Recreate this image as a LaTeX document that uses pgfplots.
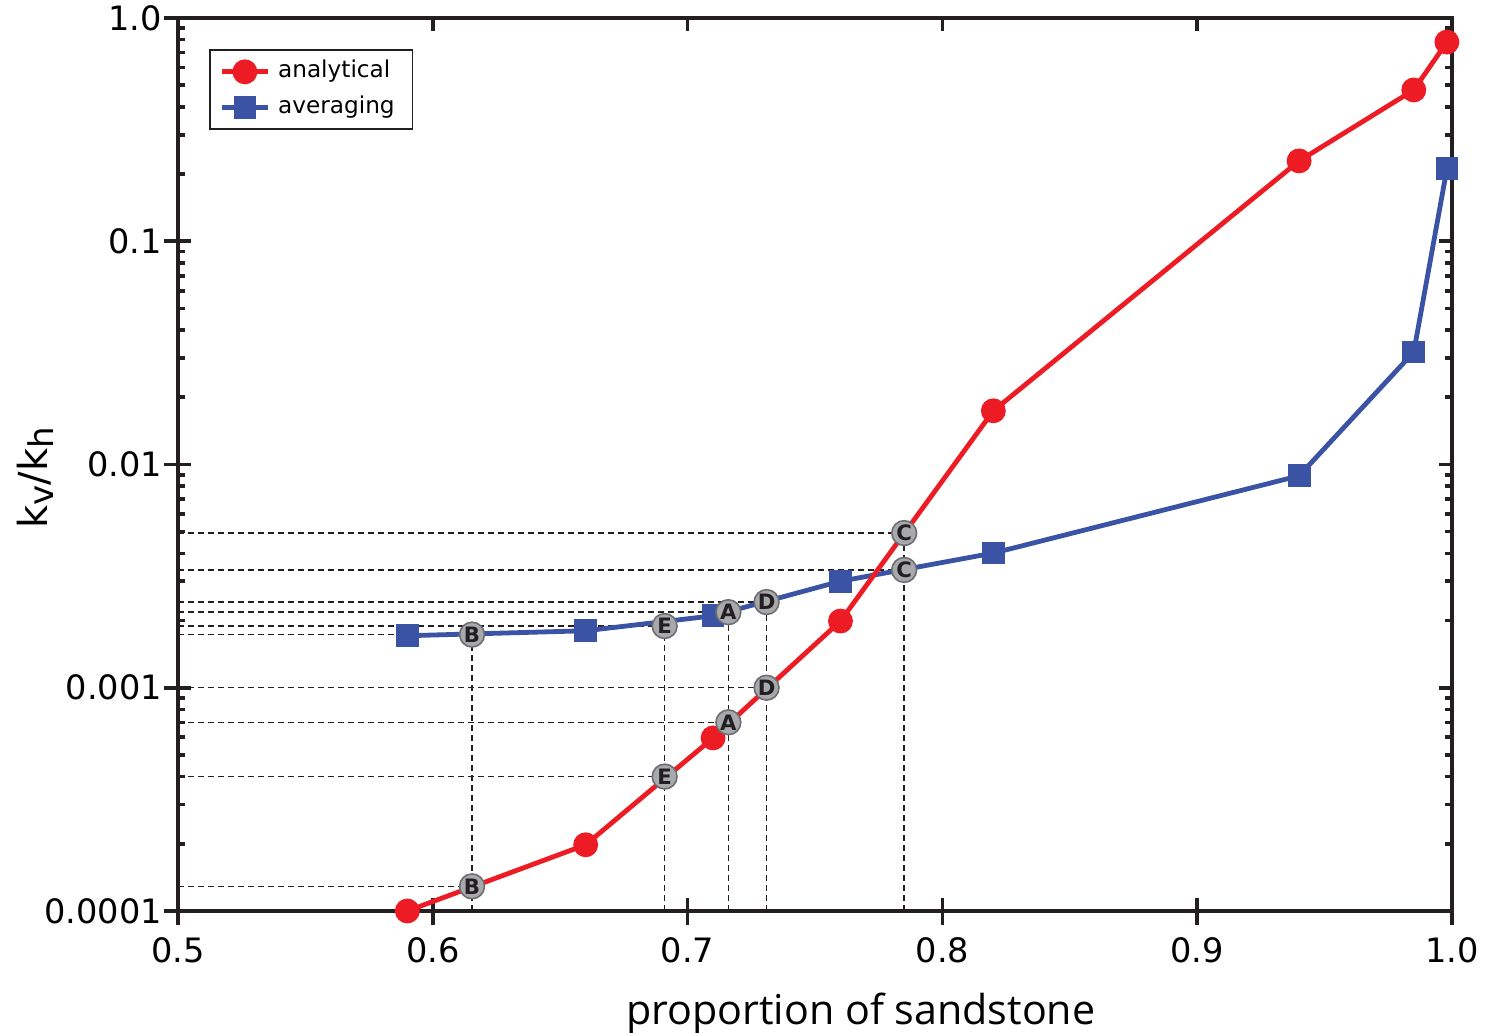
\documentclass[border=0pt]{standalone}
\usepackage{fontspec}
\setmainfont{DejaVu Sans}
\newfontfamily\labfont{Open Sans}
\usepackage{pgfplots}
\pgfplotsset{compat=1.18}

\definecolor{cred}{HTML}{ED1C24}
\definecolor{cblue}{HTML}{3A53A4}
\definecolor{cgray}{HTML}{A7A9AC}
\definecolor{cgrayd}{HTML}{6D6E71}
\definecolor{cdark}{HTML}{231F20}

\begin{document}
\begin{tikzpicture}
\begin{axis}[
  name=ax,
  scale only axis,
  width=318.5pt, height=223.25pt,
  xmin=0.5, xmax=1.0,
  ymode=log, ymin=1e-4, ymax=1,
  clip=false,
  axis line style={cdark, line width=0.9pt},
  every tick/.style={cdark, line width=0.9pt},
  tick align=inside,
  major tick length=3.3pt, minor tick length=1.8pt,
  xtick={0.5,0.6,0.7,0.8,0.9,1.0},
  xticklabels={0.5,0.6,0.7,0.8,0.9,1.0},
  minor x tick num=0,
  ytick={1e-4,1e-3,1e-2,1e-1,1},
  yticklabels={0.0001,0.001,0.01,0.1,1.0},
  extra x ticks={0.5,0.6,0.7,0.8,0.9,1.0},
  extra x tick labels={},
  extra x tick style={tick align=outside, xtick pos=bottom, major tick length=3.5pt},
  extra y ticks={1e-4,1e-3,1e-2,1e-1,1},
  extra y tick labels={},
  extra y tick style={tick align=outside, ytick pos=left, major tick length=3.5pt},
  ticklabel style={font=\fontsize{8.4}{10}\selectfont, text=black},
  xticklabel style={yshift=-3pt},
  yticklabel style={xshift=-0.5pt},
  /pgf/number format/assume math mode=true,
  xlabel={proportion of sandstone},
  xlabel style={font=\labfont\fontsize{10.3}{12}\selectfont, at={(axis description cs:0.536,0)}, anchor=north, yshift=-17pt},
  ylabel={k\raisebox{-0.3ex}{\fontsize{8.5}{10}\selectfont v}/k\raisebox{-0.3ex}{\fontsize{8.5}{10}\selectfont h}},
  ylabel style={font=\fontsize{10}{12}\selectfont, at={(axis description cs:-0.112,0.485)}, anchor=center},
  legend style={at={(0.0243,0.965)}, anchor=north west, draw=cdark, line width=0.4pt,
    font=\fontsize{5.8}{7}\selectfont, inner xsep=2.5pt, inner ysep=1.4pt, row sep=0.8pt,
    nodes={inner ysep=1.1pt, inner xsep=2pt}},
  legend cell align=left,
  legend image code/.code={\draw[mark repeat=2,mark phase=2] plot coordinates {(0cm,0cm) (0.2cm,0cm) (0.4cm,0cm)};},
  reverse legend,
]

% dashed guide lines
\addplot[cdark, line width=0.35pt, dash pattern=on 1.5pt off 1pt, unbounded coords=jump, forget plot] coordinates {
(0.5,0.00493) (0.785,0.00493) (0.5,nan)
(0.5,0.00337) (0.785,0.00337) (0.5,nan)
(0.5,0.00242) (0.731,0.00242) (0.5,nan)
(0.5,0.00218) (0.716,0.00218) (0.5,nan)
(0.5,0.00189) (0.691,0.00189) (0.5,nan)
(0.5,0.00173) (0.6154,0.00173) (0.5,nan)
(0.5,0.001) (0.731,0.001) (0.5,nan)
(0.5,0.0007) (0.716,0.0007) (0.5,nan)
(0.5,0.0004) (0.691,0.0004) (0.5,nan)
(0.5,0.000129) (0.6154,0.000129) (0.5,nan)
(0.6154,0.0001) (0.6154,0.00173) (0.5,nan)
(0.691,0.0001) (0.691,0.00189) (0.5,nan)
(0.716,0.0001) (0.716,0.00218) (0.5,nan)
(0.731,0.0001) (0.731,0.00242) (0.5,nan)
(0.785,0.0001) (0.785,0.00493)
};

% averaging
\addplot[cblue, line width=1.2pt, mark=square*, mark size=2.25pt, mark options={solid}] coordinates {
(0.59,0.00171) (0.66,0.00180) (0.71,0.00210) (0.76,0.00300)
(0.82,0.00401) (0.94,0.0089) (0.985,0.0319) (0.998,0.211)
};
\addlegendentry{averaging}

% analytical
\addplot[cred, line width=1.2pt, mark=*, mark size=2.5pt, mark options={solid}] coordinates {
(0.59,0.0001) (0.66,0.000198) (0.71,0.000596) (0.76,0.00199)
(0.82,0.0174) (0.94,0.229) (0.985,0.476) (0.998,0.78)
};
\addlegendentry{analytical}

% labelled points
\addplot[only marks, mark=*, mark size=3.1pt, mark options={fill=cgray, draw=cgrayd, line width=0.4pt},
  point meta=explicit symbolic, nodes near coords, nodes near coords align=center,
  every node near coord/.append style={font=\bfseries\fontsize{5.3}{6}\selectfont, text=cdark, inner sep=0pt},
  forget plot] table[meta=lab] {
x y lab
0.6154 0.00173 B
0.6154 0.000129 B
0.691 0.00189 E
0.691 0.0004 E
0.716 0.00218 A
0.716 0.0007 A
0.731 0.00242 D
0.731 0.001 D
0.785 0.00493 C
0.785 0.00337 C
};
\end{axis}
\pgfresetboundingbox
\path (ax.south west) ++(-44.5pt,-30.5pt) coordinate (bl);
\path (ax.north east) ++(9pt,4.5pt) coordinate (tr);
\path[use as bounding box] (bl) rectangle (tr);
\end{tikzpicture}
\end{document}
